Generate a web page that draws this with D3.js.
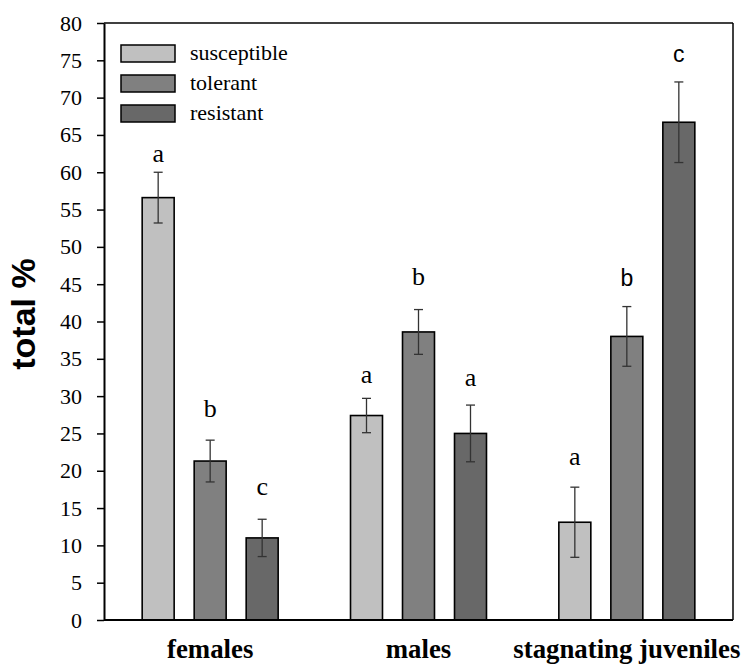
<!DOCTYPE html>
<html>
<head>
<meta charset="utf-8">
<script src="https://cdn.jsdelivr.net/npm/d3@7/dist/d3.min.js"></script>
<style>
  html, body { margin: 0; padding: 0; background: #fff; }
  svg { display: block; }
  .serif { font-family: "Liberation Serif", "Times New Roman", Times, serif; }
  .sans { font-family: "Liberation Sans", Arial, Helvetica, sans-serif; }
</style>
</head>
<body>
<svg id="chart" width="742" height="664"></svg>
<script>
// ---- data ----
const groups = ["females", "males", "stagnating juveniles"];
const seriesNames = ["susceptible", "tolerant", "resistant"];
const susceptible = [56.6, 27.4, 13.1];
const tolerant = [21.3, 38.6, 38.0];
const resistant = [11.0, 25.0, 66.7];
const susceptibleErr = [3.4, 2.3, 4.7];
const tolerantErr = [2.8, 3.0, 4.0];
const resistantErr = [2.5, 3.8, 5.4];
const susceptibleLetters = ["a", "a", "a"];
const tolerantLetters = ["b", "b", "b"];
const resistantLetters = ["c", "a", "c"];
const susceptibleLetterY = [61.4, 31.8, 20.8];
const tolerantLetterY = [27.2, 44.9, 44.7];
const resistantLetterY = [16.8, 31.3, 74.8];
const yTicks = [0, 5, 10, 15, 20, 25, 30, 35, 40, 45, 50, 55, 60, 65, 70, 75, 80];
const yLabel = "total %";

const seriesColors = ["#c0c0c0", "#808080", "#686868"];
const sansLetter = [[false, false, false], [false, false, true], [false, false, true]]; // [series][group]

const seriesValues = [susceptible, tolerant, resistant];
const seriesErrs = [susceptibleErr, tolerantErr, resistantErr];
const seriesLetters = [susceptibleLetters, tolerantLetters, resistantLetters];
const seriesLetterY = [susceptibleLetterY, tolerantLetterY, resistantLetterY];

const rows = [];
seriesNames.forEach((s, si) => {
  groups.forEach((g, gi) => {
    rows.push({ series: s, si, group: g, gi, value: seriesValues[si][gi], err: seriesErrs[si][gi],
      letter: seriesLetters[si][gi], letterY: seriesLetterY[si][gi], sans: sansLetter[si][gi] });
  });
});

// ---- layout ----
const svg = d3.select("#chart");
const L = 104, R = 733, T = 23, B = 620;

const y = d3.scaleLinear().domain([0, 80]).range([B, T]);
const x0 = d3.scaleBand().domain(groups).range([106, 731]).padding(0);
const x1 = d3.scaleBand().domain(seriesNames).range([-78, 78]).paddingInner(0.385).paddingOuter(0.1925);
const color = d3.scaleOrdinal().domain(seriesNames).range(seriesColors);

// bars
const g = svg.append("g");
g.selectAll("rect.bar").data(rows).join("rect")
  .attr("class", "bar")
  .attr("x", d => x0(d.group) + x0.bandwidth() / 2 + x1(d.series))
  .attr("width", x1.bandwidth())
  .attr("y", d => y(d.value))
  .attr("height", d => y(0) - y(d.value))
  .attr("fill", d => color(d.series))
  .attr("stroke", "#000")
  .attr("stroke-width", 1.6);

// error bars
const cx = d => x0(d.group) + x0.bandwidth() / 2 + x1(d.series) + x1.bandwidth() / 2;
const eb = g.selectAll("g.err").data(rows).join("g").attr("class", "err")
  .attr("stroke", "#333").attr("stroke-width", 1.3);
eb.append("line").attr("x1", cx).attr("x2", cx)
  .attr("y1", d => y(d.value + d.err)).attr("y2", d => y(d.value - d.err));
eb.append("line").attr("x1", d => cx(d) - 4.5).attr("x2", d => cx(d) + 4.5)
  .attr("y1", d => y(d.value + d.err)).attr("y2", d => y(d.value + d.err));
eb.append("line").attr("x1", d => cx(d) - 4.5).attr("x2", d => cx(d) + 4.5)
  .attr("y1", d => y(d.value - d.err)).attr("y2", d => y(d.value - d.err));

// letters
g.selectAll("text.letter").data(rows).join("text")
  .attr("class", d => "letter " + (d.sans ? "sans" : "serif"))
  .attr("x", cx)
  .attr("y", d => y(d.letterY))
  .attr("text-anchor", "middle")
  .style("font-size", d => (d.sans ? 23 : 26) + "px")
  .attr("fill", "#000")
  .text(d => d.letter);

// frame
svg.append("line").attr("x1", L).attr("x2", R).attr("y1", T).attr("y2", T).attr("stroke", "#000").attr("stroke-width", 1.5);
svg.append("line").attr("x1", R).attr("x2", R).attr("y1", T).attr("y2", B).attr("stroke", "#000").attr("stroke-width", 1.5);
svg.append("line").attr("x1", L).attr("x2", R).attr("y1", B).attr("y2", B).attr("stroke", "#000").attr("stroke-width", 2);

// y axis
const yAxis = svg.append("g").attr("transform", `translate(${L},0)`)
  .call(d3.axisLeft(y).tickValues(yTicks).tickSize(7).tickPadding(15).tickSizeOuter(0));
yAxis.attr("font-family", null).attr("font-size", null);
yAxis.select(".domain").attr("stroke", "#000").attr("stroke-width", 2);
yAxis.selectAll(".tick line").attr("stroke", "#000").attr("stroke-width", 1.5);
yAxis.selectAll(".tick text").attr("class", "serif").style("font-size", "22px").attr("fill", "#000");

// x labels
svg.selectAll("text.xlab").data(groups).join("text")
  .attr("class", "xlab serif")
  .attr("x", d => x0(d) + x0.bandwidth() / 2)
  .attr("y", 658)
  .attr("text-anchor", "middle")
  .style("font-weight", "bold")
  .style("font-size", "26.8px")
  .attr("fill", "#000")
  .text(d => d);

// y label
svg.append("text")
  .attr("class", "sans")
  .attr("transform", "translate(35,314) rotate(-90)")
  .attr("text-anchor", "middle")
  .style("font-weight", "bold")
  .style("font-size", "34px")
  .attr("fill", "#000")
  .text(yLabel);

// legend
const leg = svg.append("g").selectAll("g").data(seriesNames).join("g")
  .attr("transform", (d, i) => `translate(121,${45 + i * 30})`);
leg.append("rect").attr("width", 54).attr("height", 17)
  .attr("fill", d => color(d)).attr("stroke", "#000").attr("stroke-width", 1.5);
leg.append("text").attr("class", "serif").attr("x", 69).attr("y", 15)
  .style("font-size", "22px").attr("fill", "#000")
  .text(d => d);
</script>
</body>
</html>
